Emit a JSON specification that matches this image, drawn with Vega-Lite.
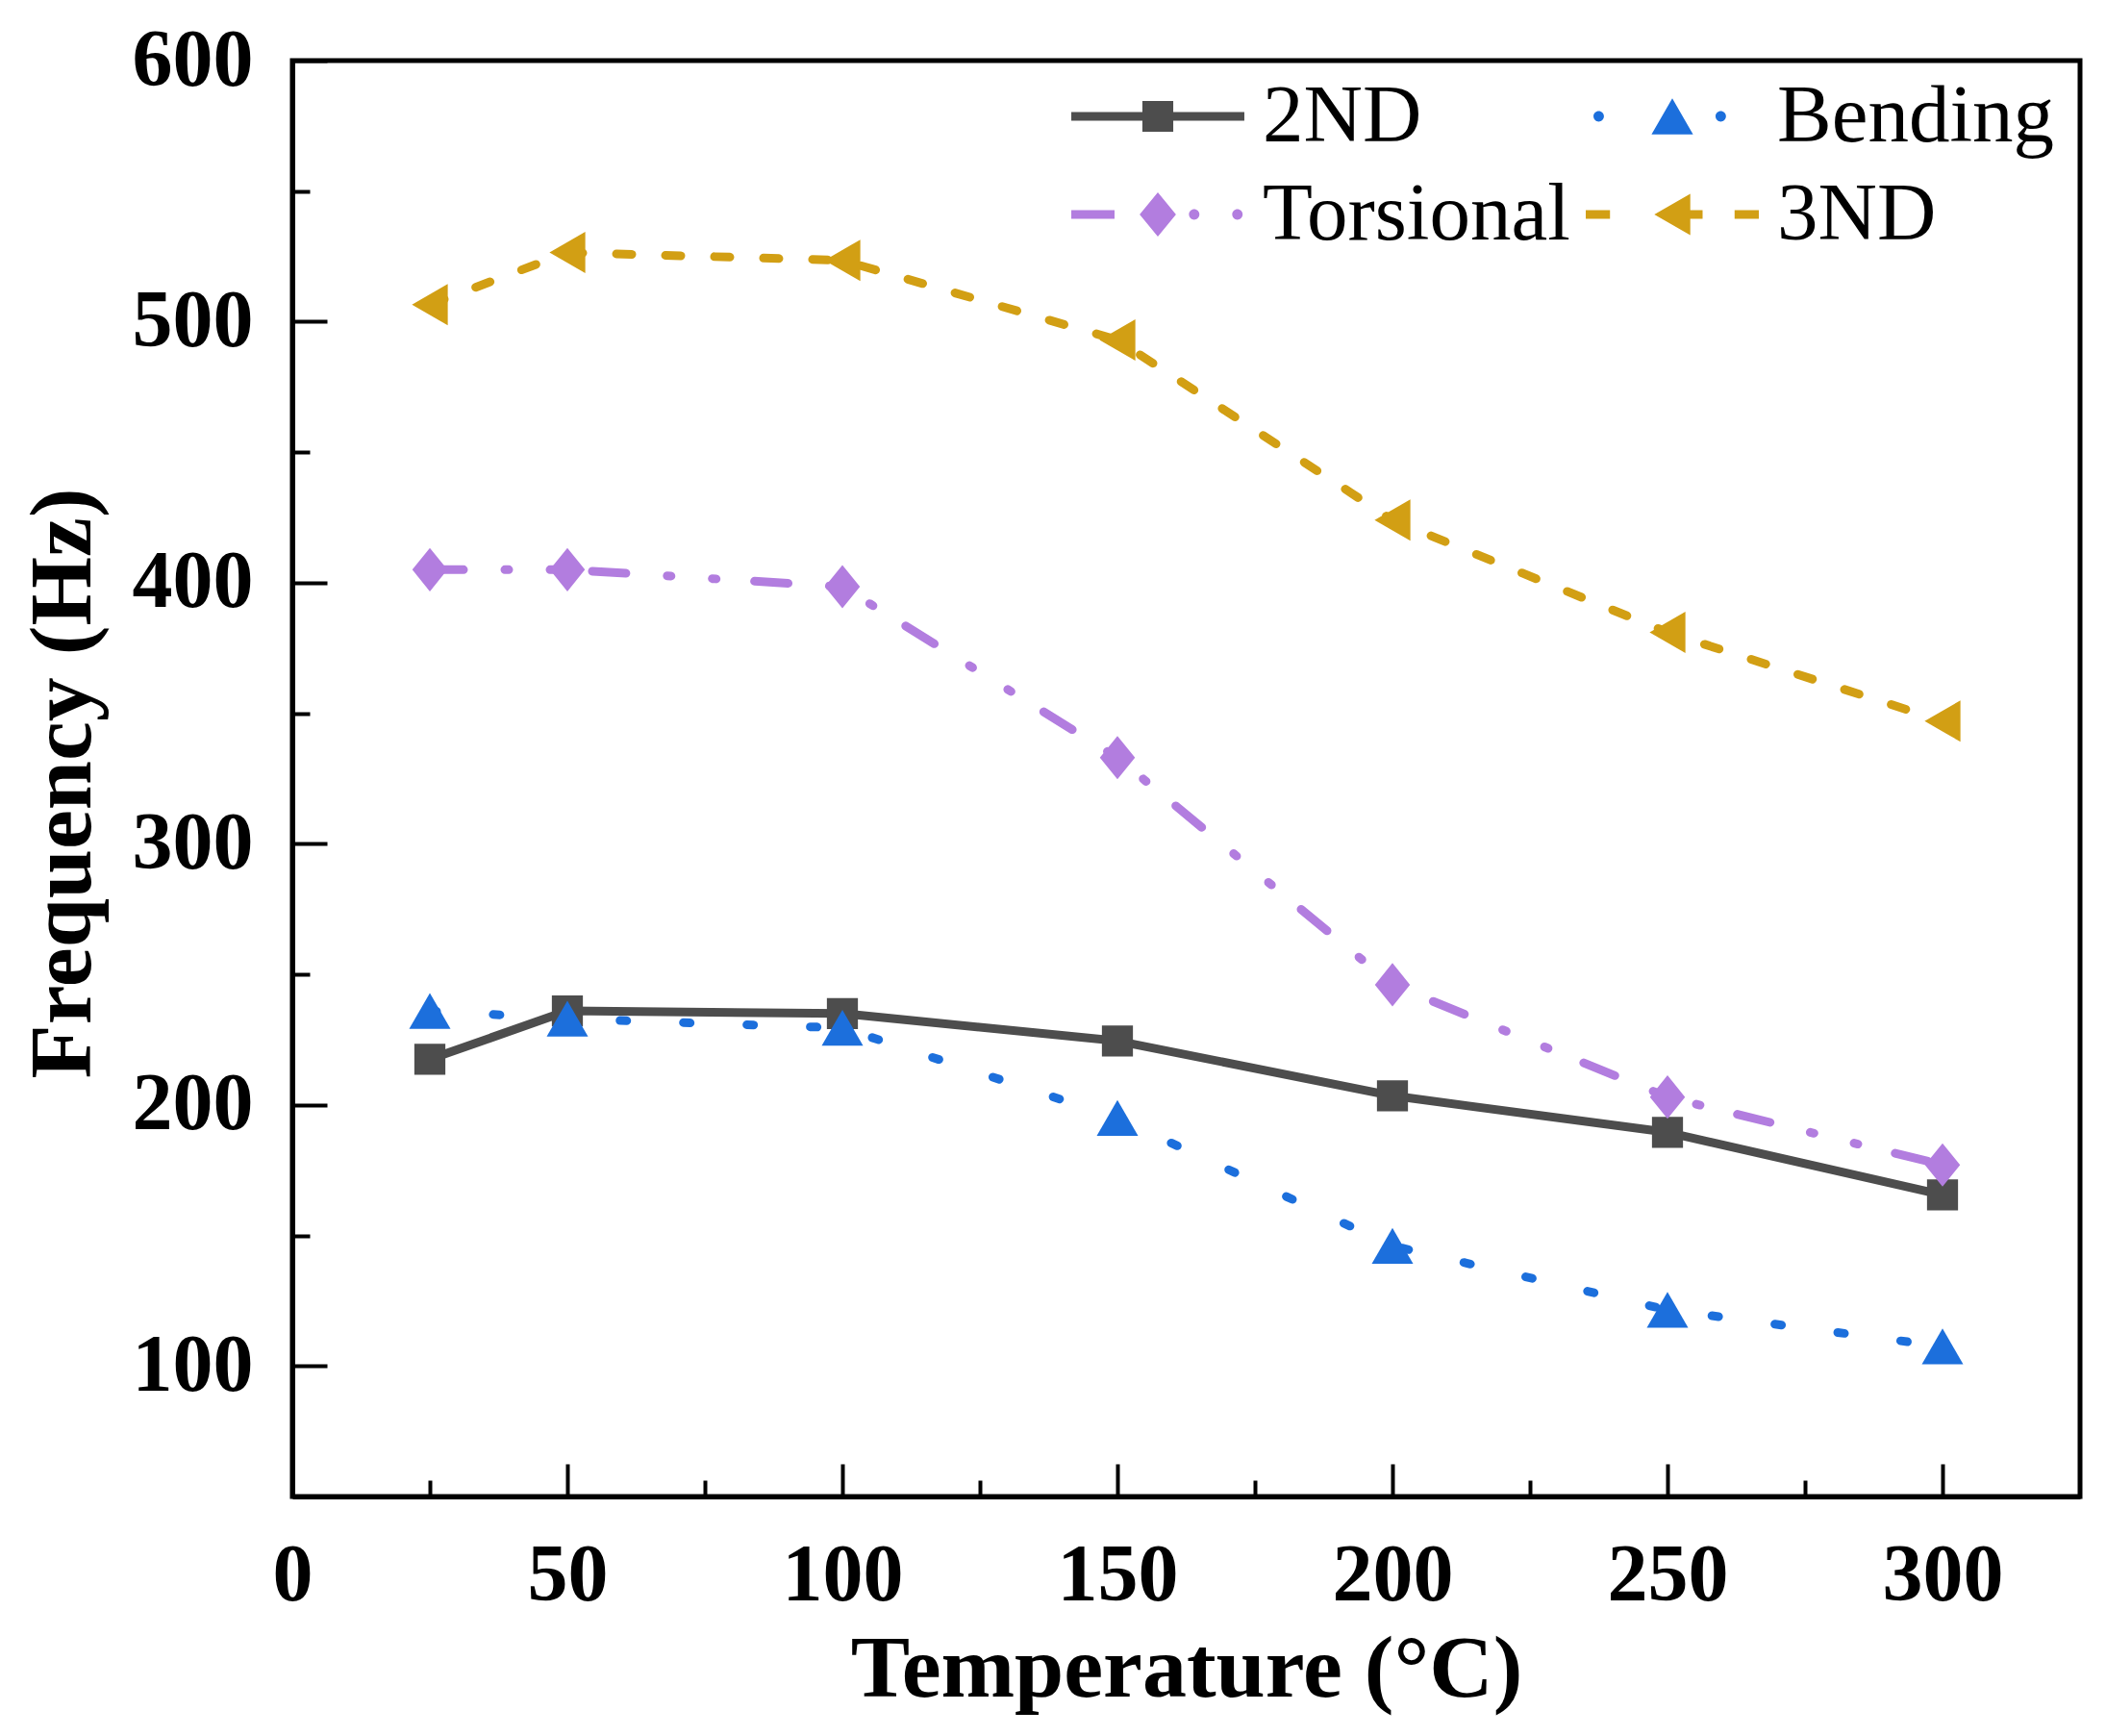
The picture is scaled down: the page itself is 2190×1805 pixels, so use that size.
{
  "$schema": "https://vega.github.io/schema/vega-lite/v6.json",
  "width": 1859,
  "height": 1493,
  "autosize": "none",
  "padding": {"left": 304, "top": 63, "right": 27, "bottom": 249},
  "background": "white",
  "data": {
    "values": [
      {"series": "2ND", "temp": 25, "freq": 217.5},
      {"series": "2ND", "temp": 50, "freq": 236},
      {"series": "2ND", "temp": 100, "freq": 235},
      {"series": "2ND", "temp": 150, "freq": 224.5},
      {"series": "2ND", "temp": 200, "freq": 203.5},
      {"series": "2ND", "temp": 250, "freq": 189.5},
      {"series": "2ND", "temp": 300, "freq": 165.5},
      {"series": "Bending", "temp": 25, "freq": 236},
      {"series": "Bending", "temp": 50, "freq": 233},
      {"series": "Bending", "temp": 100, "freq": 229.5},
      {"series": "Bending", "temp": 150, "freq": 195},
      {"series": "Bending", "temp": 200, "freq": 146},
      {"series": "Bending", "temp": 250, "freq": 121.5},
      {"series": "Bending", "temp": 300, "freq": 107.5},
      {"series": "Torsional", "temp": 25, "freq": 405},
      {"series": "Torsional", "temp": 50, "freq": 405},
      {"series": "Torsional", "temp": 100, "freq": 398.5},
      {"series": "Torsional", "temp": 150, "freq": 333},
      {"series": "Torsional", "temp": 200, "freq": 246},
      {"series": "Torsional", "temp": 250, "freq": 203},
      {"series": "Torsional", "temp": 300, "freq": 177},
      {"series": "3ND", "temp": 25, "freq": 506.5},
      {"series": "3ND", "temp": 50, "freq": 526.5},
      {"series": "3ND", "temp": 100, "freq": 523.5},
      {"series": "3ND", "temp": 150, "freq": 493},
      {"series": "3ND", "temp": 200, "freq": 424},
      {"series": "3ND", "temp": 250, "freq": 381},
      {"series": "3ND", "temp": 300, "freq": 347}
    ]
  },
  "encoding": {
    "x": {
      "field": "temp",
      "type": "quantitative",
      "scale": {"domain": [0, 325], "nice": false, "zero": false},
      "axis": {
        "title": "Temperature (°C)",
        "values": [0, 25, 50, 75, 100, 125, 150, 175, 200, 225, 250, 275, 300],
        "labelExpr": "datum.value % 50 === 0 ? datum.label : ''",
        "tickSize": {"condition": {"test": "datum.value % 50 === 0", "value": -34}, "value": -17},
        "labelPadding": 141,
        "labelBaseline": "alphabetic",
        "titleY": 207,
        "titleBaseline": "alphabetic"
      }
    },
    "y": {
      "field": "freq",
      "type": "quantitative",
      "scale": {"domain": [50, 600], "nice": false, "zero": false},
      "axis": {
        "title": "Frequency (Hz)",
        "values": [100, 150, 200, 250, 300, 350, 400, 450, 500, 550, 600],
        "labelExpr": "datum.value % 100 === 0 ? datum.label : ''",
        "tickSize": {"condition": {"test": "datum.value % 100 === 0", "value": -36}, "value": -18},
        "labelPadding": 77,
        "titleX": -192,
        "titleY": 751
      }
    }
  },
  "layer": [
    {
      "transform": [{"filter": "datum.series === '2ND'"}],
      "mark": {"type": "line", "strokeWidth": 9, "strokeCap": "round", "strokeJoin": "round", "color": "#4d4d4d"}
    },
    {
      "transform": [{"filter": "datum.series === 'Bending'"}],
      "mark": {"type": "line", "strokeWidth": 9, "strokeCap": "round", "strokeJoin": "round", "color": "#1c6fdc", "strokeDash": [7, 59]}
    },
    {
      "transform": [{"filter": "datum.series === 'Torsional'"}],
      "mark": {"type": "line", "strokeWidth": 9, "strokeCap": "round", "strokeJoin": "round", "color": "#b27ddf", "strokeDash": [35, 43, 4, 43, 4, 40]}
    },
    {
      "transform": [{"filter": "datum.series === '3ND'"}],
      "mark": {"type": "line", "strokeWidth": 9, "strokeCap": "round", "strokeJoin": "round", "color": "#d29f14", "strokeDash": [16, 35]}
    },
    {
      "transform": [{"filter": "datum.series === '2ND'"}],
      "mark": {"type": "point", "filled": true, "opacity": 1, "strokeWidth": 0, "size": 1850, "color": "#4d4d4d", "shape": "M-0.75,-0.75H0.75V0.75H-0.75Z"}
    },
    {
      "transform": [{"filter": "datum.series === 'Bending'"}],
      "mark": {"type": "point", "filled": true, "opacity": 1, "strokeWidth": 0, "size": 1850, "color": "#1c6fdc", "shape": "triangle-up"}
    },
    {
      "transform": [{"filter": "datum.series === 'Torsional'"}],
      "mark": {"type": "point", "filled": true, "opacity": 1, "strokeWidth": 0, "size": 1850, "color": "#b27ddf", "shape": "M0,-1.05L0.85,0L0,1.05L-0.85,0Z"}
    },
    {
      "transform": [{"filter": "datum.series === '3ND'"}],
      "mark": {"type": "point", "filled": true, "opacity": 1, "strokeWidth": 0, "size": 1850, "color": "#d29f14", "shape": "triangle-left"}
    },
    {
      "mark": {"type": "point", "filled": true, "opacity": 0, "size": 10},
      "encoding": {
        "color": {
          "field": "series",
          "type": "nominal",
          "scale": {"domain": ["2ND", "Bending", "Torsional", "3ND"], "range": ["#4d4d4d", "#1c6fdc", "#b27ddf", "#d29f14"]},
          "legend": {"orient": "none", "legendX": 810, "legendY": -1, "columns": 2, "direction": "horizontal", "title": null}
        },
        "shape": {
          "field": "series",
          "type": "nominal",
          "scale": {
            "domain": ["2ND", "Bending", "Torsional", "3ND"],
            "range": [
              "M-1.525,-0.076H1.525V0.076H-1.525Z M-0.272,-0.272H0.272V0.272H-0.272Z",
              "M-1.389,0A0.092,0.092 0 1,0 -1.205,0A0.092,0.092 0 1,0 -1.389,0Z M0,-0.317L0.366,0.317L-0.366,0.317Z M0.762,0A0.092,0.092 0 1,0 0.946,0A0.092,0.092 0 1,0 0.762,0Z",
              "M-1.525,-0.076H-0.763V0.076H-1.525Z M0,-0.389L0.32,0L0,0.389L-0.32,0Z M0.549,0A0.092,0.092 0 1,0 0.733,0A0.092,0.092 0 1,0 0.549,0Z M1.311,0A0.092,0.092 0 1,0 1.495,0A0.092,0.092 0 1,0 1.311,0Z",
              "M-1.525,-0.076H-1.098V0.076H-1.525Z M-0.317,0L0.317,-0.366L0.317,0.366Z M0.3,-0.076H0.534V0.076H0.3Z M1.098,-0.076H1.525V0.076H1.098Z"
            ]
          },
          "legend": {"orient": "none", "legendX": 810, "legendY": -1, "columns": 2, "direction": "horizontal", "title": null}
        }
      }
    }
  ],
  "config": {
    "view": {"stroke": "black", "strokeWidth": 5},
    "axis": {
      "grid": false,
      "domainColor": "black",
      "domainWidth": 5,
      "tickColor": "black",
      "tickWidth": 4,
      "labelFont": "Liberation Serif",
      "labelFontWeight": "bold",
      "labelFontSize": 84,
      "labelColor": "black",
      "labelFlush": false,
      "labelOverlap": false,
      "titleFont": "Liberation Serif",
      "titleFontWeight": "bold",
      "titleFontSize": 92,
      "titleColor": "black"
    },
    "legend": {
      "symbolSize": 13924,
      "symbolOffset": 31,
      "symbolStrokeWidth": 0,
      "symbolOpacity": 1,
      "labelFont": "Liberation Serif",
      "labelFontSize": 85,
      "labelColor": "black",
      "labelOffset": 50,
      "labelLimit": 0,
      "columnPadding": 16,
      "rowPadding": 0
    }
  }
}
